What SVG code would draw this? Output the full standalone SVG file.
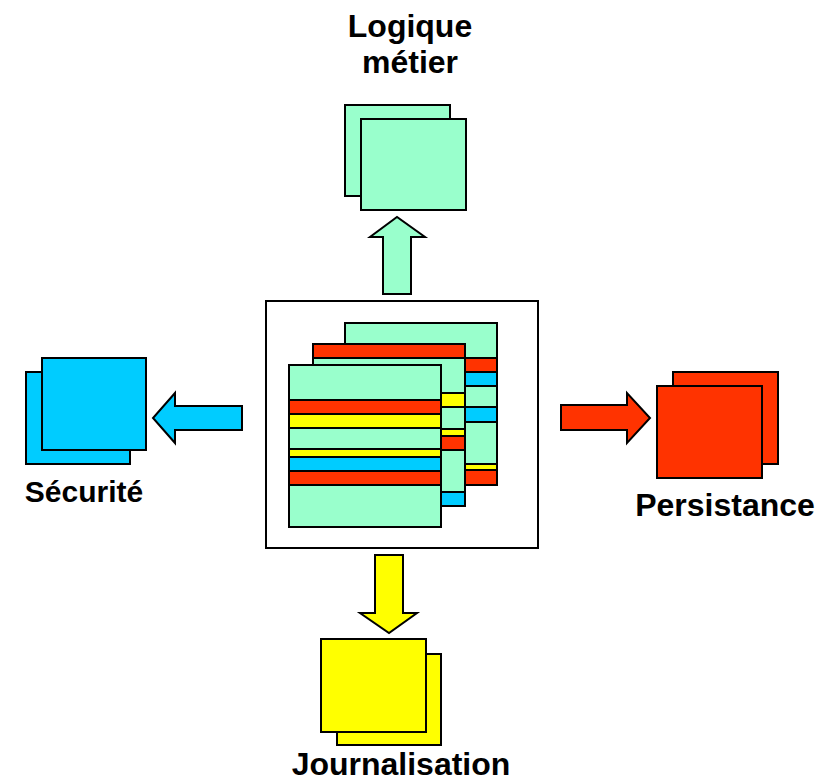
<svg xmlns="http://www.w3.org/2000/svg" width="830" height="783" viewBox="0 0 830 783">
  <style>
    .s { stroke: #000; stroke-width: 2; stroke-linejoin: miter; }
    .g { fill: #99FFCC; }
    .r { fill: #FF3300; }
    .y { fill: #FFFF00; }
    .b { fill: #00CCFF; }
    .w { fill: #FFFFFF; }
    .lbl { font-family: "Liberation Sans", Arial, sans-serif; font-weight: bold; font-size: 32px; fill: #000; }
  </style>
  <rect width="830" height="783" fill="#FFFFFF"/>

  <!-- central component: a stack of striped sheets -->
  <g id="core">
    <rect class="s w" x="266" y="301" width="272" height="247"/>
    <!-- back sheet -->
    <rect class="s g" x="345" y="323" width="152" height="162"/>
    <rect class="s r" x="345" y="358" width="152" height="14"/>
    <rect class="s b" x="345" y="372" width="152" height="14"/>
    <rect class="s b" x="345" y="407" width="152" height="15"/>
    <rect class="s y" x="345" y="464" width="152" height="6"/>
    <rect class="s r" x="345" y="470" width="152" height="15"/>
    <!-- middle sheet -->
    <rect class="s g" x="313" y="344" width="152" height="162"/>
    <rect class="s r" x="313" y="344" width="152" height="14"/>
    <rect class="s y" x="313" y="393" width="152" height="14"/>
    <rect class="s y" x="313" y="429" width="152" height="7"/>
    <rect class="s r" x="313" y="436" width="152" height="14"/>
    <rect class="s b" x="313" y="492" width="152" height="14"/>
    <!-- front sheet -->
    <rect class="s g" x="289" y="365" width="152" height="162"/>
    <rect class="s r" x="289" y="400" width="152" height="14"/>
    <rect class="s y" x="289" y="414" width="152" height="14"/>
    <rect class="s y" x="289" y="449" width="152" height="8"/>
    <rect class="s b" x="289" y="457" width="152" height="14"/>
    <rect class="s r" x="289" y="471" width="152" height="14"/>
  </g>

  <!-- block arrows from the core to each concern -->
  <g id="connectors">
    <polygon class="s g" points="383,294 383,237 370,237 397,217 425,237 411,237 411,294"/>
    <polygon class="s b" points="242,406 175,406 175,393 153,418 175,443 175,430 242,430"/>
    <polygon class="s r" points="561,405 627,405 627,393 650,418 627,443 627,430 561,430"/>
    <polygon class="s y" points="375,555 403,555 403,613 417,613 389,633 360,613 375,613"/>
  </g>

  <g id="logique">
    <rect class="s g" x="345" y="105" width="105" height="91"/>
    <rect class="s g" x="361" y="119" width="105" height="91"/>
    <text class="lbl" x="410" y="37" text-anchor="middle">Logique</text>
    <text class="lbl" x="410" y="73" text-anchor="middle">métier</text>
  </g>

  <g id="securite">
    <rect class="s b" x="26" y="372" width="104" height="92"/>
    <rect class="s b" x="42" y="358" width="104" height="92"/>
    <text class="lbl" x="84" y="502" text-anchor="middle" style="font-size:30px">Sécurité</text>
  </g>

  <g id="persistance">
    <rect class="s r" x="673" y="372" width="105" height="92"/>
    <rect class="s r" x="657" y="386" width="105" height="92"/>
    <text class="lbl" x="725" y="516" text-anchor="middle">Persistance</text>
  </g>

  <g id="journalisation">
    <rect class="s y" x="337" y="654" width="104" height="91"/>
    <rect class="s y" x="321" y="639" width="105" height="93"/>
    <text class="lbl" x="401" y="775" text-anchor="middle">Journalisation</text>
  </g>
</svg>
